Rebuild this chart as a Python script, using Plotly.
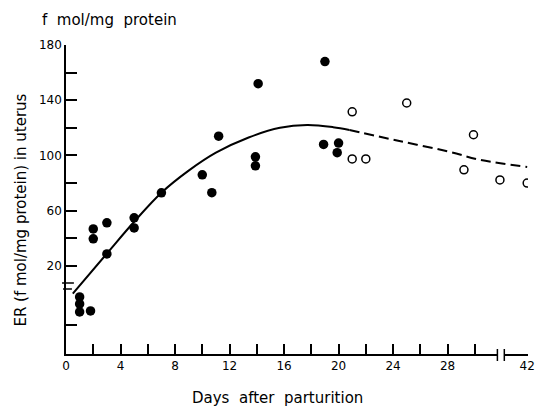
import plotly.graph_objects as go

# ---- data ----
filled_days = [1, 1, 1, 1.8, 2, 2, 3, 3, 5, 5, 7, 10, 10.7, 11.2, 13.9, 13.9, 14.1, 19, 18.9, 20, 19.9]
filled_vals = [-2.5, -7.5, -13.3, -12.6, 46.8, 39.6, 51.2, 28.7, 54.8, 47.5, 72.9, 86, 73, 114, 99, 92.5, 152, 168, 108, 109, 102]

open_days = [21, 21, 22, 25, 29.2, 29.9, 40, 42]
open_vals = [131.6, 97.5, 97.5, 138, 89.6, 115, 82.3, 80]

curve_days = [0.5, 3, 5, 7, 9, 11, 13.4, 15.7, 17.7, 19.6, 20.8]
curve_vals = [0, 29, 52, 73, 89, 102, 113, 120, 122, 120.5, 118.5]

dash_days = [20.8, 24.2, 28, 30.4, 42]
dash_vals = [118.5, 111, 103, 96.8, 91.7]

x_major = [0, 4, 8, 12, 16, 20, 24, 28, 42]
x_minor = [2, 6, 10, 14, 18, 22, 26, 30]
y_major = [20, 60, 100, 140, 180]
y_minor = [40, 80, 120, 160, -22.8]

BREAK_SHIFT = 8.16  # axis break between day 30 and day 40


def pos(d):
    return d if d <= 31 else d - BREAK_SHIFT


FONT = "DejaVu Sans"

fig = go.Figure()
fig.add_trace(go.Scatter(x=[pos(d) for d in curve_days], y=curve_vals, mode="lines",
                         line=dict(color="black", width=2, shape="spline", smoothing=1.0),
                         showlegend=False))
fig.add_trace(go.Scatter(x=[pos(d) for d in dash_days], y=dash_vals, mode="lines",
                         line=dict(color="black", width=2, dash="10px,5px", shape="spline"),
                         showlegend=False))
fig.add_trace(go.Scatter(x=[pos(d) for d in filled_days], y=filled_vals, mode="markers",
                         marker=dict(color="black", size=9.5, line=dict(width=0)), showlegend=False))
fig.add_trace(go.Scatter(x=[pos(d) for d in open_days], y=open_vals, mode="markers",
                         marker=dict(color="white", size=8, line=dict(color="black", width=1.5)),
                         showlegend=False))

tv_x = [pos(v) for v in x_major + x_minor]
tt_x = [str(v) for v in x_major] + [""] * len(x_minor)
tv_y = y_major + y_minor
tt_y = [str(v) for v in y_major] + [""] * len(y_minor)

fig.update_layout(
    width=547, height=409,
    margin=dict(l=66, r=13, t=45, b=55),
    paper_bgcolor="white", plot_bgcolor="white",
    font=dict(family=FONT, color="black", size=12),
    xaxis=dict(range=[0, 33.9], tickvals=tv_x, ticktext=tt_x, ticks="inside", ticklen=10,
               tickwidth=1.5, tickcolor="black", showline=True, linecolor="black", linewidth=1.5,
               showgrid=False, zeroline=False, tickfont=dict(size=12, family=FONT)),
    yaxis=dict(range=[-43.8, 180], tickvals=tv_y, ticktext=tt_y, ticks="inside", ticklen=11,
               tickwidth=1.5, tickcolor="black", showline=True, linecolor="black", linewidth=1.5,
               showgrid=False, zeroline=False, tickfont=dict(size=12, family=FONT)),
    shapes=[
        # x-axis break
        dict(type="rect", xref="paper", yref="paper", x0=(503 - 66) / 468, x1=(510 - 66) / 468,
             y0=-0.02, y1=0.02, fillcolor="white", line=dict(width=0), layer="above"),
        dict(type="line", xref="paper", yref="paper", x0=(503 - 66) / 468, x1=(503 - 66) / 468,
             y0=-7 / 309, y1=5 / 309, line=dict(color="black", width=1.5)),
        dict(type="line", xref="paper", yref="paper", x0=(510 - 66) / 468, x1=(510 - 66) / 468,
             y0=-7 / 309, y1=5 / 309, line=dict(color="black", width=1.5)),
        # y-axis break marks
        dict(type="line", xref="paper", yref="paper", x0=-4 / 468, x1=8 / 468,
             y0=(354 - 283) / 309, y1=(354 - 283) / 309, line=dict(color="black", width=1.5)),
        dict(type="line", xref="paper", yref="paper", x0=-3 / 468, x1=6 / 468,
             y0=(354 - 289) / 309, y1=(354 - 289) / 309, line=dict(color="black", width=1.5)),
    ],
    annotations=[
        dict(text="f  mol/mg  protein", xref="paper", yref="paper", x=(40 - 66) / 468, y=(354 - 20) / 309,
             xanchor="left", yanchor="middle", showarrow=False, font=dict(size=15, family=FONT)),
        dict(text="ER (f mol/mg protein) in uterus", xref="paper", yref="paper",
             x=(20 - 66) / 468, y=(354 - 210) / 309, textangle=-90, xanchor="center",
             yanchor="middle", showarrow=False, font=dict(size=15, family=FONT)),
        dict(text="Days  after  parturition", xref="paper", yref="paper", x=(280 - 66) / 468,
             y=(354 - 398) / 309, xanchor="center", yanchor="middle", showarrow=False,
             font=dict(size=15, family=FONT)),
    ],
)

fig.write_html("out.html")
